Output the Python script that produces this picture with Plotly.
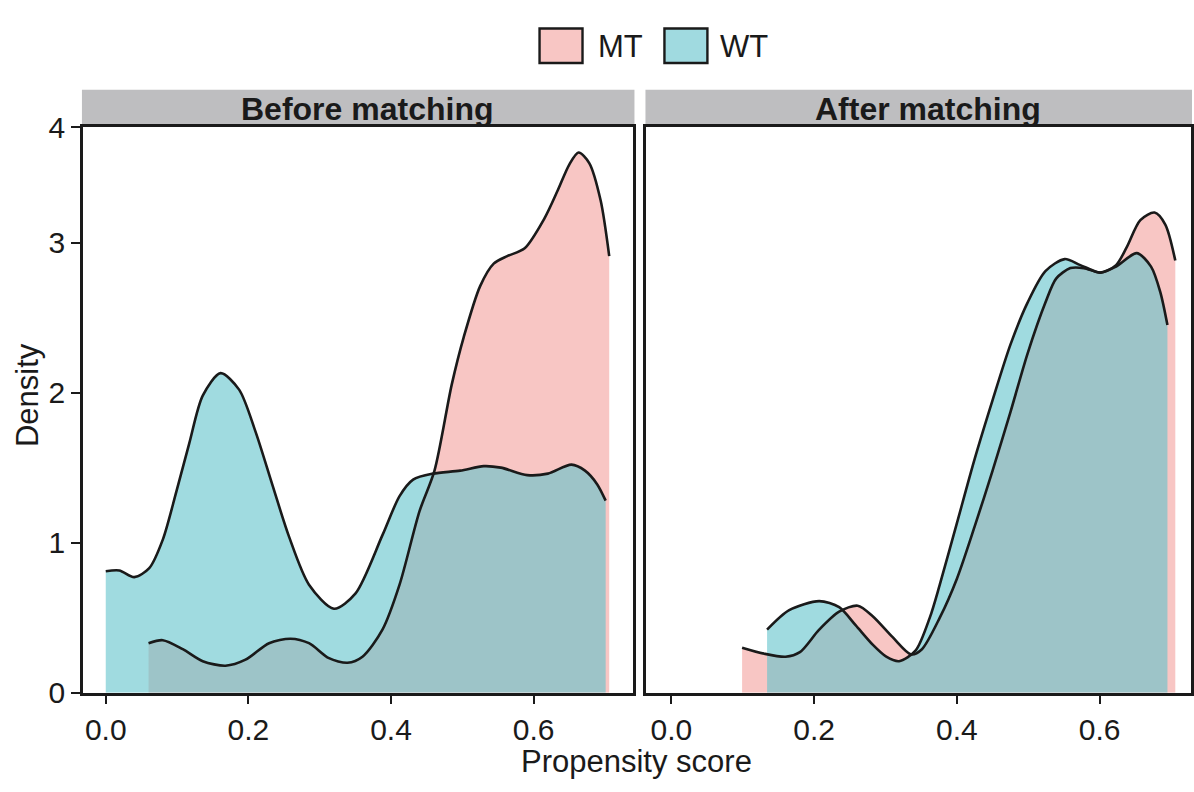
import plotly.graph_objects as go

# ---------------- data ----------------
before_wt_x = [0.000, 0.019, 0.040, 0.061, 0.080, 0.099, 0.117, 0.136, 0.161, 0.187, 0.210, 0.234,
               0.257, 0.285, 0.320, 0.350, 0.388, 0.412, 0.431, 0.459, 0.497, 0.530, 0.554, 0.591,
               0.620, 0.653, 0.672, 0.689, 0.701]
before_wt_y = [0.81, 0.815, 0.77, 0.83, 1.02, 1.34, 1.66, 1.98, 2.13, 2.02, 1.74, 1.38,
               1.04, 0.72, 0.56, 0.66, 1.05, 1.31, 1.42, 1.46, 1.48, 1.51, 1.50, 1.45,
               1.46, 1.52, 1.48, 1.39, 1.28]

before_mt_x = [0.060, 0.080, 0.108, 0.136, 0.168, 0.196, 0.229, 0.259, 0.285, 0.313, 0.339, 0.360,
               0.388, 0.412, 0.440, 0.461, 0.485, 0.502, 0.525, 0.544, 0.563, 0.587, 0.615, 0.634,
               0.650, 0.663, 0.678, 0.694, 0.706]
before_mt_y = [0.33, 0.35, 0.29, 0.21, 0.18, 0.22, 0.33, 0.36, 0.33, 0.23, 0.20, 0.24,
               0.42, 0.72, 1.21, 1.48, 2.05, 2.37, 2.71, 2.86, 2.91, 2.96, 3.16, 3.35,
               3.52, 3.60, 3.53, 3.28, 2.91]

after_mt_x = [0.099, 0.130, 0.160, 0.180, 0.207, 0.235, 0.261, 0.282, 0.310, 0.336, 0.351, 0.376,
              0.400, 0.425, 0.450, 0.475, 0.499, 0.524, 0.539, 0.559, 0.578, 0.601, 0.623, 0.638,
              0.657, 0.677, 0.692, 0.706]
after_mt_y = [0.30, 0.26, 0.24, 0.27, 0.42, 0.54, 0.58, 0.51, 0.37, 0.255, 0.29, 0.50,
              0.76, 1.11, 1.48, 1.87, 2.26, 2.60, 2.76, 2.83, 2.83, 2.80, 2.85, 2.97,
              3.15, 3.20, 3.12, 2.88]

after_wt_x = [0.134, 0.165, 0.207, 0.235, 0.258, 0.282, 0.301, 0.319, 0.342, 0.362, 0.376,
              0.400, 0.425, 0.450, 0.475, 0.499, 0.524, 0.551, 0.573, 0.601, 0.623, 0.652,
              0.672, 0.685, 0.695]
after_wt_y = [0.42, 0.55, 0.61, 0.57, 0.45, 0.32, 0.24, 0.21, 0.28, 0.50, 0.72,
              1.13, 1.56, 1.95, 2.32, 2.60, 2.81, 2.89, 2.85, 2.80, 2.84, 2.93,
              2.84, 2.67, 2.45]

panel_titles = ["Before matching", "After matching"]
group_names = ["MT", "WT"]
y_tick_vals = [0, 1, 2, 3, 3.77]
y_tick_text = ["0", "1", "2", "3", "4"]
x_tick_vals = [0.0, 0.2, 0.4, 0.6]
x_tick_text = ["0.0", "0.2", "0.4", "0.6"]

# ---------------- style ----------------
W, H = 1194, 792
FONT = "Liberation Sans, Arial, Helvetica, sans-serif"
INK = "#1a1a1a"
MT_FILL = "rgba(243,160,157,0.6)"
WT_FILL = "rgba(97,195,203,0.6)"
MT_SOLID = "rgb(248,198,196)"
WT_SOLID = "rgb(160,218,224)"
LINE = dict(color=INK, width=2.6, shape="spline", smoothing=0.8)

def px(x):
    return x / W

def py(y):
    return 1 - y / H

fig = go.Figure()

panels = [
    ("x", "y", [(before_mt_x, before_mt_y, MT_FILL, "MT"), (before_wt_x, before_wt_y, WT_FILL, "WT")]),
    ("x2", "y2", [(after_mt_x, after_mt_y, MT_FILL, "MT"), (after_wt_x, after_wt_y, WT_FILL, "WT")]),
]
# fills first
for xa, ya, series in panels:
    for x, y, fill, name in series:
        fig.add_trace(go.Scatter(
            x=x, y=y, mode="lines", fill="tozeroy", fillcolor=fill,
            line=dict(color="rgba(0,0,0,0)", width=0, shape="spline", smoothing=0.8),
            xaxis=xa, yaxis=ya, name=name, showlegend=False, hoverinfo="skip"))
# outlines on top
for xa, ya, series in panels:
    for x, y, fill, name in series:
        fig.add_trace(go.Scatter(
            x=x, y=y, mode="lines", line=LINE,
            xaxis=xa, yaxis=ya, name=name, showlegend=False, hoverinfo="skip"))

panel_left = (83, 634)
panel_right = (647, 1192)
ptop, pbot = 115, 706
ydom = [py(pbot), py(ptop)]

axis_common = dict(showline=True, linecolor=INK, linewidth=2.6, mirror=True,
                   ticklen=9, tickwidth=2.4, tickcolor=INK,
                   showgrid=False, zeroline=False,
                   tickfont=dict(family=FONT, size=30, color=INK))

fig.update_layout(
    width=W, height=H, margin=dict(l=0, r=0, t=0, b=0),
    paper_bgcolor="white", plot_bgcolor="white",
    xaxis=dict(domain=[px(panel_left[0]), px(panel_left[1])], range=[-0.032, 0.740],
               tickvals=x_tick_vals, ticktext=x_tick_text, anchor="y", ticks="outside",
               **axis_common),
    yaxis=dict(domain=ydom, range=[0, 3.77], tickvals=y_tick_vals, ticktext=y_tick_text,
               anchor="x", ticks="outside", **axis_common),
    xaxis2=dict(domain=[px(panel_right[0]), px(panel_right[1])], range=[-0.035, 0.728],
                tickvals=x_tick_vals, ticktext=x_tick_text, anchor="y2", ticks="outside",
                **axis_common),
    yaxis2=dict(domain=ydom, range=[0, 3.77], tickvals=y_tick_vals, showticklabels=False,
                anchor="x2", ticks="", **axis_common),
)

shapes = []
annotations = []
# facet strips
for (x0, x1), title in zip([panel_left, panel_right], panel_titles):
    shapes.append(dict(type="rect", xref="paper", yref="paper",
                       x0=px(x0 - 1), x1=px(x1 + 1), y0=py(ptop - 1), y1=py(76),
                       fillcolor="#bebec0", line=dict(width=0), layer="below"))
    annotations.append(dict(text="<b>" + title + "</b>", xref="paper", yref="paper",
                            x=px((x0 + x1) / 2 + 9), y=py(96), showarrow=False,
                            xanchor="center", yanchor="middle",
                            font=dict(family=FONT, size=32, color=INK)))

# legend keys
legend_items = [(540, 583, MT_SOLID, 596), (665, 708, WT_SOLID, 719)]
for (x0, x1, col, tx), name in zip(legend_items, group_names):
    shapes.append(dict(type="rect", xref="paper", yref="paper",
                       x0=px(x0), x1=px(x1), y0=py(48), y1=py(12),
                       fillcolor=col, line=dict(color=INK, width=2.4)))
    annotations.append(dict(text=name, xref="paper", yref="paper", x=px(tx), y=py(31),
                            showarrow=False, xanchor="left", yanchor="middle",
                            font=dict(family=FONT, size=31, color=INK)))

# axis titles
annotations.append(dict(text="Density", xref="paper", yref="paper", x=px(27), y=py(395),
                        showarrow=False, textangle=-90, xanchor="center", yanchor="middle",
                        font=dict(family=FONT, size=31, color=INK)))
annotations.append(dict(text="Propensity score", xref="paper", yref="paper", x=px(637), y=py(778),
                        showarrow=False, xanchor="center", yanchor="middle", borderpad=0,
                        font=dict(family=FONT, size=31, color=INK)))

fig.update_layout(shapes=shapes, annotations=annotations)
fig.write_html("out.html", config={"displayModeBar": False},
               post_script="document.body.style.margin='0px';")
